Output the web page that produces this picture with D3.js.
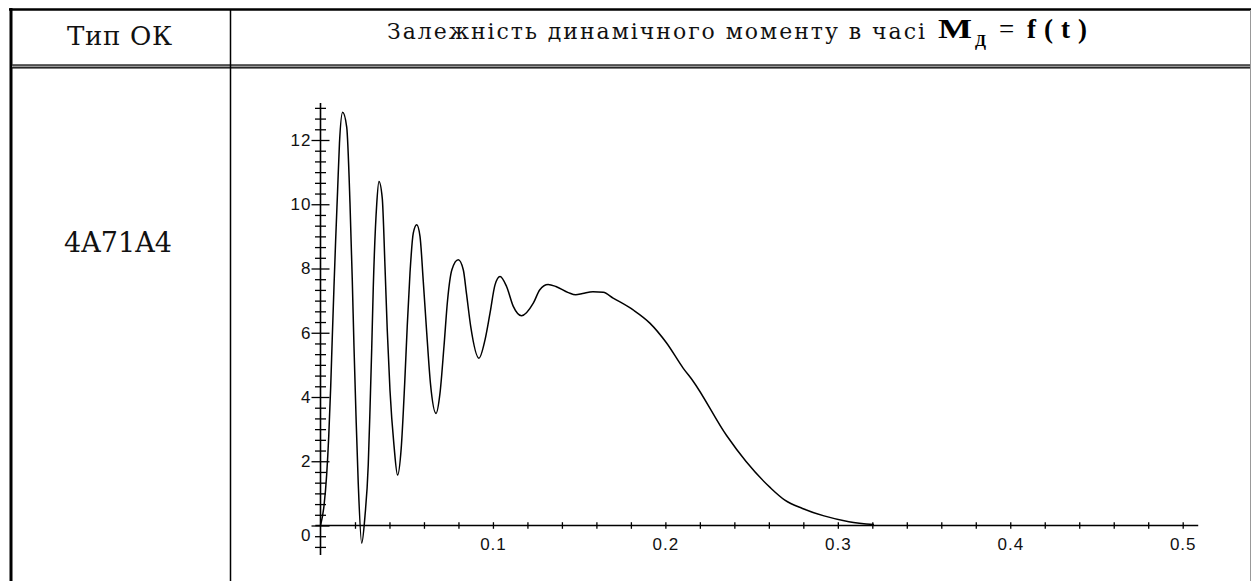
<!DOCTYPE html>
<html>
<head>
<meta charset="utf-8">
<script src="https://d3js.org/d3.v7.min.js"></script>
<style>
  body{margin:0;background:#fff;}
  .cell{font-family:"DejaVu Serif",serif;fill:#111;}
  .math{font-family:"Liberation Serif",serif;font-weight:bold;fill:#000;}
  .tick text{font-family:"Liberation Sans",Arial,sans-serif;font-size:17px;fill:#111;letter-spacing:1px;}
</style>
</head>
<body>
<script>
// table text
const headType = "Тип ОК";
const headTitle = "Залежність динамічного моменту в часі";
const motorType = "4A71A4";

// M_d(t)
const tValues = [0, 0.002, 0.0036, 0.0048, 0.0059, 0.0068, 0.0078, 0.0088, 0.0099, 0.011, 0.01285,
  0.0152, 0.0171, 0.01845, 0.0194, 0.0206, 0.0219, 0.0239, 0.0258, 0.0277, 0.0287, 0.0297, 0.0306,
  0.0326, 0.0339, 0.0358, 0.0374, 0.0387, 0.0403, 0.0426, 0.0447, 0.0468, 0.0488, 0.0503, 0.0519,
  0.0538, 0.0558, 0.0577, 0.0596, 0.0616, 0.0638, 0.067, 0.0693, 0.0716, 0.0737, 0.0762, 0.0799,
  0.0828, 0.0847, 0.0871, 0.0919, 0.0954, 0.0983, 0.1012, 0.1041, 0.1079, 0.1118, 0.1166, 0.1234,
  0.1272, 0.132, 0.1365, 0.1437, 0.148, 0.152, 0.158, 0.164, 0.1697, 0.1813, 0.191, 0.2007, 0.2103,
  0.216, 0.2355, 0.2468, 0.261, 0.2693, 0.2795, 0.292, 0.3064, 0.321];
const mValues = [0, 0.6, 1.6, 2.8, 4.3, 5.8, 7.4, 8.9, 10.4, 11.9, 12.86,
  12.4, 10.04, 7.6, 5.6, 3.4, 1.3, -0.55, 0.3, 1.9, 3.6, 5.5, 7.4,
  10.0, 10.71, 10.2, 8.06, 6.1, 4.2, 2.5, 1.57, 2.4, 4.4, 6.2, 7.86,
  9.1, 9.36, 9.0, 7.6, 6.0, 4.4, 3.49, 4.12, 5.57, 7.02, 7.96, 8.27,
  7.96, 7.2, 6.2, 5.21, 5.78, 6.61, 7.49, 7.75, 7.44, 6.82, 6.53, 6.92,
  7.34, 7.5, 7.44, 7.25, 7.18, 7.22, 7.28, 7.26, 7.08, 6.71, 6.30, 5.68, 4.90,
  4.5, 2.8, 1.99, 1.17, 0.79, 0.53, 0.30, 0.12, 0.03];

// ticks
const xTickLabels = ["0.1", "0.2", "0.3", "0.4", "0.5"];
const yTickLabels = ["0", "2", "4", "6", "8", "10", "12"];

const W = 1256, H = 581;
const svg = d3.select("body").append("svg").attr("width", W).attr("height", H);

// ---- table grid
const grid = svg.append("g");
grid.append("line").attr("x1", 9).attr("x2", 1251).attr("y1", 9.5).attr("y2", 9.5)
  .attr("stroke", "#000").attr("stroke-width", 2.5);
grid.append("line").attr("x1", 11).attr("x2", 11).attr("y1", 8).attr("y2", H)
  .attr("stroke", "#000").attr("stroke-width", 3);
grid.append("rect").attr("x", 12).attr("y", 64.5).attr("width", 1238).attr("height", 3.5).attr("fill", "#9a9a9a");
[65, 67.8].forEach(function(yy){
  grid.append("line").attr("x1", 12).attr("x2", 1250).attr("y1", yy).attr("y2", yy)
    .attr("stroke", "#000").attr("stroke-width", 1.2);
});
grid.append("line").attr("x1", 230.5).attr("x2", 230.5).attr("y1", 10).attr("y2", H)
  .attr("stroke", "#000").attr("stroke-width", 1.5);
grid.append("line").attr("x1", 1250.5).attr("x2", 1250.5).attr("y1", 10).attr("y2", H)
  .attr("stroke", "#999").attr("stroke-width", 1);

// ---- cell text
svg.append("text").attr("class", "cell").attr("x", 67).attr("y", 45)
  .attr("font-size", 26).attr("textLength", 105).attr("lengthAdjust", "spacing").text(headType);
svg.append("text").attr("class", "cell").attr("x", 387).attr("y", 39)
  .attr("font-size", 22).attr("textLength", 538).attr("lengthAdjust", "spacing").text(headTitle);
svg.append("text").attr("class", "cell").attr("x", 64).attr("y", 251.5)
  .attr("font-size", 27).attr("textLength", 108).attr("lengthAdjust", "spacing").text(motorType);

// M_Д = f(t)
const math = svg.append("g").attr("class", "math");
math.append("text").attr("x", 938).attr("y", 38).attr("font-size", 27)
  .attr("textLength", 34).attr("lengthAdjust", "spacingAndGlyphs").text("M");
math.append("text").attr("x", 975).attr("y", 46).attr("font-size", 16).text("Д");
math.append("text").attr("x", 999).attr("y", 38).attr("font-size", 27).attr("font-weight", "normal").text("=");
math.append("text").attr("x", 1027).attr("y", 38).attr("font-size", 27)
  .attr("textLength", 60).attr("lengthAdjust", "spacing").text("f(t)");

// ---- plot
const x = d3.scaleLinear().domain([0, 0.5]).range([320.5, 1182.7]);
const y = d3.scaleLinear().domain([0, 12]).range([525.5, 140]);

const xMinor = d3.range(1, 26).map(k => k * 0.02);
const xAxis = d3.axisBottom(x).tickValues(xMinor).tickSize(0).tickPadding(12)
  .tickFormat(function(d, i){ return (i + 1) % 5 === 0 ? xTickLabels[(i + 1) / 5 - 1] : ""; });
const gx = svg.append("g").attr("transform", "translate(0," + y(0) + ")").call(xAxis);
gx.select(".domain").remove();
gx.selectAll(".tick line").attr("y1", -3.3).attr("y2", 3.3).attr("stroke", "#000").attr("stroke-width", 1.3);
gx.append("line").attr("x1", x(-0.003)).attr("x2", x(0.509)).attr("stroke", "#000").attr("stroke-width", 1.6);

const yMinor = d3.range(-2, 40).map(k => k / 3);
const yAxis = d3.axisLeft(y).tickValues(yMinor).tickSize(0).tickPadding(9)
  .tickFormat(function(d, i){
    const k = i - 2;
    return (k >= 0 && k % 6 === 0) ? yTickLabels[k / 6] : "";
  });
const gy = svg.append("g").attr("transform", "translate(" + x(0) + ",0)").call(yAxis);
gy.select(".domain").remove();
gy.selectAll(".tick").each(function(d, i){
  const k = i - 2;
  const major = k % 6 === 0;
  d3.select(this).select("line")
    .attr("x1", major ? -9 : -5.5).attr("x2", major ? 9 : 5.5)
    .attr("stroke", "#000").attr("stroke-width", 1.3);
  if (k === 0) d3.select(this).select("text").attr("dy", "0.9em");
});
gy.append("line").attr("y1", y(-0.92)).attr("y2", y(13.15)).attr("stroke", "#000").attr("stroke-width", 1.6);

const line = d3.line()
  .x(function(d, i){ return x(tValues[i]); })
  .y(function(d){ return y(d); })
  .curve(d3.curveMonotoneX);

svg.append("path").datum(mValues)
  .attr("d", line)
  .attr("fill", "none")
  .attr("stroke", "#000")
  .attr("stroke-width", 1.5);
</script>
</body>
</html>
